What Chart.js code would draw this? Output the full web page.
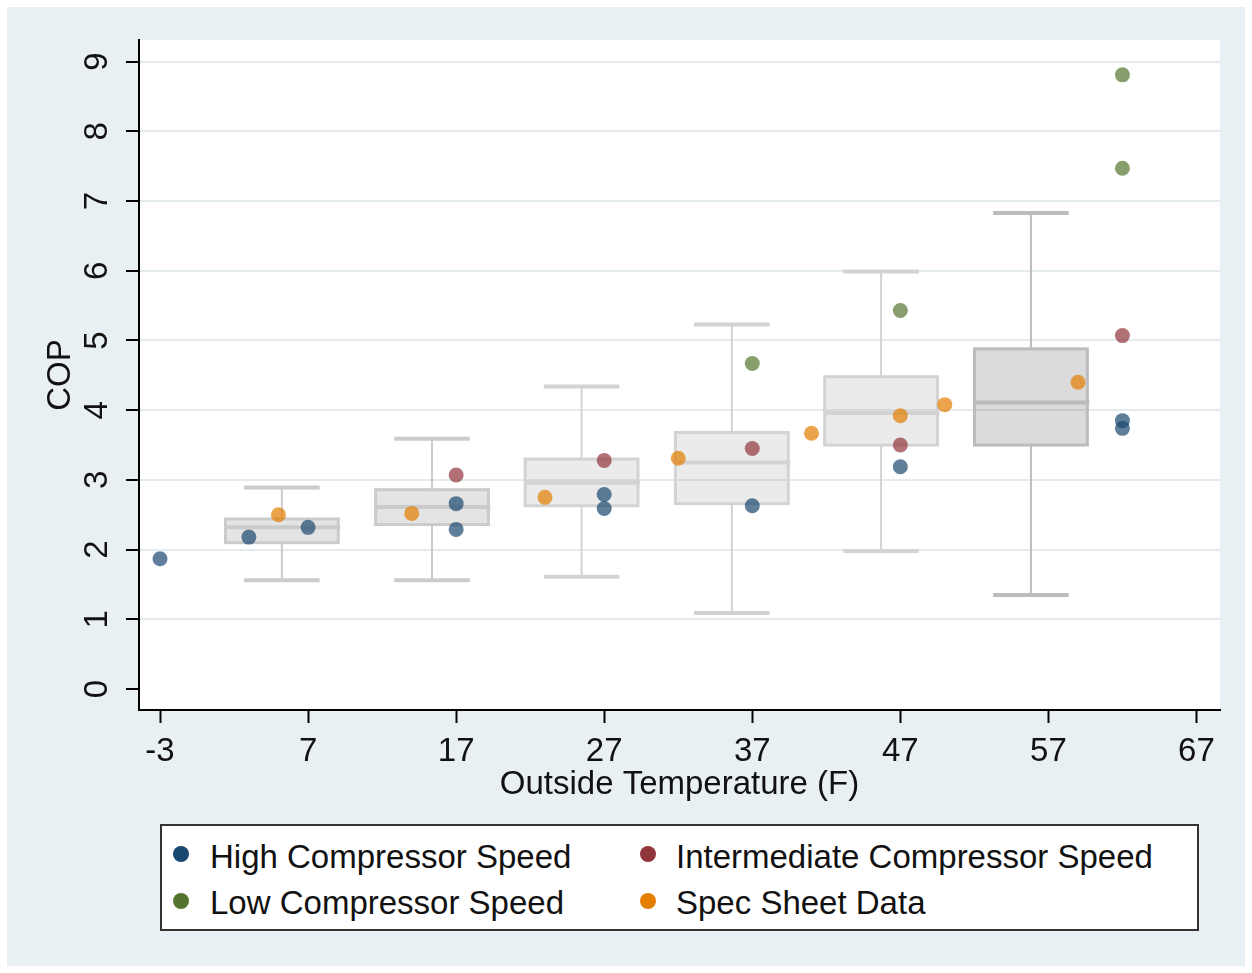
<!DOCTYPE html>
<html>
<head>
<meta charset="utf-8">
<title>COP vs Outside Temperature</title>
<script src="https://cdn.jsdelivr.net/npm/chart.js@4.4.1/dist/chart.umd.min.js"></script>
<style>
  html, body { margin: 0; padding: 0; background: #fff; }
  #frame {
    position: absolute; left: 7px; top: 7px; width: 1238px; height: 959px;
    background: #e9f0f3;
  }
  #cop { position: absolute; left: 0; top: 0; }
  #legend {
    position: absolute; left: 153px; top: 817px; width: 1035px; height: 103px;
    border: 2px solid #333; background: #fff;
    font-family: "Liberation Sans", Arial, sans-serif; font-size: 33px; color: #111;
  }
  #legend .dot { position: absolute; width: 16px; height: 16px; border-radius: 50%; }
  #legend .lbl { position: absolute; line-height: 40px; white-space: nowrap; }
</style>
</head>
<body>
<div id="frame">
  <canvas id="cop" width="1238" height="959"></canvas>
  <div id="legend"></div>
</div>
<script>
// axis ticks
const xTicks = [-3, 7, 17, 27, 37, 47, 57, 67];
const yTicks = [0, 1, 2, 3, 4, 5, 6, 7, 8, 9];

// series (outside temperature F, COP)
const seriesNames = ["High Compressor Speed", "Intermediate Compressor Speed", "Low Compressor Speed", "Spec Sheet Data"];
const highX = [-3, 3, 7, 17, 17, 27, 27, 37, 47, 62, 62];
const highY = [1.87, 2.18, 2.32, 2.66, 2.29, 2.79, 2.59, 2.63, 3.19, 3.85, 3.74];
const interX = [17, 27, 37, 47, 62];
const interY = [3.07, 3.28, 3.45, 3.50, 5.07];
const lowX = [37, 47, 62, 62];
const lowY = [4.67, 5.43, 7.47, 8.81];
const specX = [5, 14, 23, 32, 41, 47, 50, 59];
const specY = [2.50, 2.52, 2.75, 3.31, 3.67, 3.92, 4.08, 4.40];

// box plots
const boxPos = [5.23, 15.37, 25.47, 35.62, 45.70, 55.82];
const boxLo = [1.56, 1.56, 1.61, 1.09, 1.98, 1.35];
const boxQ1 = [2.10, 2.36, 2.63, 2.66, 3.50, 3.50];
const boxMed = [2.32, 2.61, 2.96, 3.25, 3.96, 4.11];
const boxQ3 = [2.44, 2.86, 3.30, 3.68, 4.48, 4.88];
const boxHi = [2.89, 3.59, 4.34, 5.23, 5.99, 6.83];

const seriesColors = ["26,71,111", "144,53,59", "85,117,47", "227,126,0"];
const boxFill = ["rgba(120,120,120,0.20)", "rgba(120,120,120,0.20)", "rgba(120,120,120,0.15)",
                 "rgba(120,120,120,0.15)", "rgba(120,120,120,0.15)", "rgba(110,110,110,0.25)"];
const boxLine = ["#cbcbcb", "#cbcbcb", "#d3d3d3", "#d3d3d3", "#d3d3d3", "#bcbcbc"];
const boxHalf = 3.81;
const capHalf = 2.55;

const FONT = "'Liberation Sans', Arial, sans-serif";

function pts(xs, ys) {
  return xs.map((x, i) => ({ x: x, y: ys[i] }));
}

const boxPlugin = {
  id: "boxes",
  beforeDraw(chart) {
    const { ctx, chartArea: a } = chart;
    ctx.save();
    ctx.fillStyle = "#fff";
    ctx.fillRect(a.left, a.top, a.right - a.left, a.bottom - a.top);
    ctx.restore();
  },
  beforeDatasetsDraw(chart) {
    const { ctx } = chart;
    const x = chart.scales.x, y = chart.scales.y;
    ctx.save();
    boxPos.forEach((pos, i) => {
      const cx = x.getPixelForValue(pos);
      const l = x.getPixelForValue(pos - boxHalf), r = x.getPixelForValue(pos + boxHalf);
      const cl = x.getPixelForValue(pos - capHalf), cr = x.getPixelForValue(pos + capHalf);
      const lo = y.getPixelForValue(boxLo[i]), q1 = y.getPixelForValue(boxQ1[i]);
      const md = y.getPixelForValue(boxMed[i]), q3 = y.getPixelForValue(boxQ3[i]);
      const hi = y.getPixelForValue(boxHi[i]);

      ctx.strokeStyle = boxLine[i];
      ctx.lineWidth = 2;
      ctx.beginPath();
      ctx.moveTo(cx, hi); ctx.lineTo(cx, q3);
      ctx.moveTo(cx, q1); ctx.lineTo(cx, lo);
      ctx.stroke();

      ctx.lineWidth = 4;
      ctx.beginPath();
      ctx.moveTo(cl, hi); ctx.lineTo(cr, hi);
      ctx.moveTo(cl, lo); ctx.lineTo(cr, lo);
      ctx.stroke();

      ctx.fillStyle = boxFill[i];
      ctx.fillRect(l, q3, r - l, q1 - q3);
      ctx.lineWidth = 3;
      ctx.strokeRect(l, q3, r - l, q1 - q3);

      ctx.lineWidth = 4;
      ctx.beginPath();
      ctx.moveTo(l, md); ctx.lineTo(r + 2, md);
      ctx.stroke();
    });
    ctx.restore();
  }
};

const sets = [pts(highX, highY), pts(interX, interY), pts(lowX, lowY), pts(specX, specY)];

new Chart(document.getElementById("cop"), {
  type: "scatter",
  data: {
    datasets: sets.map((d, i) => ({
      label: seriesNames[i],
      data: d,
      pointRadius: 7.5,
      pointHoverRadius: 7.5,
      borderWidth: 0,
      backgroundColor: "rgba(" + seriesColors[i] + ",0.7)"
    }))
  },
  options: {
    responsive: false,
    animation: false,
    events: [],
    layout: { padding: { left: 0, top: 33, right: 25, bottom: 156 } },
    plugins: { legend: { display: false }, tooltip: { enabled: false } },
    scales: {
      x: {
        type: "linear",
        min: -4.42,
        max: 68.59,
        afterBuildTicks: (s) => { s.ticks = xTicks.map((v) => ({ value: v })); },
        afterFit: (s) => { s.height = 100; s.paddingLeft = 0; s.paddingRight = 0; },
        grid: { drawOnChartArea: false, drawTicks: true, tickLength: 13, tickColor: "#000", tickWidth: 2 },
        border: { display: true, color: "#000", width: 2 },
        ticks: { autoSkip: false, maxRotation: 0, padding: 9, color: "#111", font: { family: FONT, size: 33 } },
        title: { display: true, text: "Outside Temperature (F)", color: "#111",
                 font: { family: FONT, size: 33 }, padding: { top: 0, bottom: 5 } }
      },
      y: {
        type: "linear",
        min: -0.30,
        max: 9.31,
        afterBuildTicks: (s) => { s.ticks = yTicks.map((v) => ({ value: v })); },
        afterFit: (s) => { s.width = 132; s.paddingTop = 0; s.paddingBottom = 0; },
        grid: {
          color: (c) => (c.tick && c.tick.value === 0 ? "rgba(0,0,0,0)" : "#e3ebee"),
          lineWidth: 2, drawTicks: true, tickLength: 13, tickColor: "#000", tickWidth: 2
        },
        border: { display: true, color: "#000", width: 2 },
        ticks: { autoSkip: false, minRotation: 90, maxRotation: 90, crossAlign: "center",
                 padding: 19, color: "#111", font: { family: FONT, size: 33 } },
        title: { display: true, text: "COP", color: "#111",
                 font: { family: FONT, size: 33 }, padding: { top: 34, bottom: 0 } }
      }
    }
  },
  plugins: [boxPlugin]
});

// legend: two columns, two rows
const legend = document.getElementById("legend");
const legendSlots = [[0, 0], [1, 0], [0, 1], [1, 1]];
seriesNames.forEach((name, i) => {
  const col = legendSlots[i][0], row = legendSlots[i][1];
  const dot = document.createElement("span");
  dot.className = "dot";
  dot.style.background = "rgb(" + seriesColors[i] + ")";
  dot.style.left = (19 - 8 + col * 467) + "px";
  dot.style.top = (28 - 8 + row * 47) + "px";
  const lbl = document.createElement("span");
  lbl.className = "lbl";
  lbl.textContent = name;
  lbl.style.left = (48 + col * 466) + "px";
  lbl.style.top = (11 + row * 46) + "px";
  legend.appendChild(dot);
  legend.appendChild(lbl);
});
</script>
</body>
</html>
